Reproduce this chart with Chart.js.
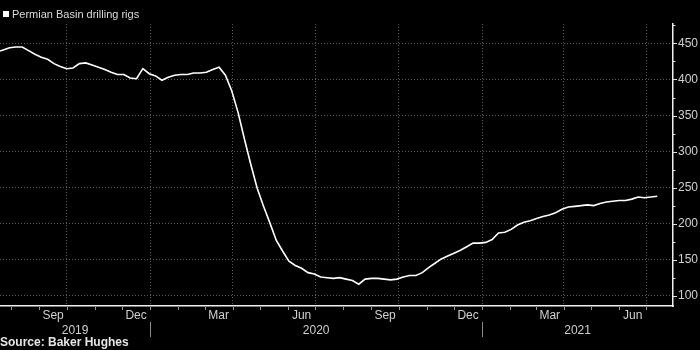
<!DOCTYPE html>
<html><head><meta charset="utf-8">
<script src="https://cdn.jsdelivr.net/npm/chart.js@4.4.1/dist/chart.umd.min.js"></script>
<style>html,body{margin:0;padding:0;background:#000;}#wrap{width:700px;height:350px;position:relative;}</style>
</head><body><div id="wrap"><canvas id="c"></canvas></div>
<script>
// ---- data (day numbers counted from 2019-07-01) ----
const seriesName = 'Permian Basin drilling rigs';
const sourceText = 'Source: Baker Hughes';
const firstPointDay = 15;   // mid-July 2019, weekly after that
const weekStep = 7;
const rigCounts = [
  438,441,444,445,445,440,435,431,428,422,418,415,416,422,423,420,417,414,410,407,
  407,402,401,415,408,405,399,403,406,407,407,409,409,410,414,417,406,384,354,317,
  282,249,224,201,177,162,148,142,138,132,130,126,125,124,125,123,121,116,123,124,
  124,123,122,123,126,128,128,132,139,145,151,155,159,163,168,173,173,174,178,187,
  188,192,198,202,204,207,210,212,215,220,223,224,225,226,225,228,230,231,232,232,
  234,237,236,237,238
];
const yTicks = [100,150,200,250,300,350,400,450];
const yMinorTicks = [125,175,225,275,325,375,425,475];
const quarterGridDays = [92,184,275,366,458,550,640,731];
const monthTickDays = [31,62,92,123,153,184,215,244,275,305,336,366,397,428,458,489,519,550,581,609,640,670,701,731];
const monthLabels = ['Sep','Dec','Mar','Jun','Sep','Dec','Mar','Jun'];
const monthLabelStart = [62,153,244,336,428,519,609,701];
const monthLabelEnd   = [92,184,275,366,458,550,640,731];
const yearLabels = ['2019','2020','2021'];
const yearBoundaryDays = [184,550];
const xMin = 18.5, xMax = 760.4;
const yMin = 85.7, yMax = 477;

const points = rigCounts.map((v,i)=>({x:firstPointDay + i*weekStep, y:v}));

const FONT = "'Liberation Sans', Arial, sans-serif";

const decor = {
  id:'decor',
  afterDraw(chart){
    const {ctx, chartArea:a, scales:{x,y}} = chart;
    ctx.save();
    // legend
    ctx.fillStyle = '#fff';
    ctx.fillRect(3,11,6,6);
    ctx.fillStyle = '#dcdcdc';
    ctx.font = "11px " + FONT;
    ctx.textBaseline = 'middle';
    ctx.textAlign = 'left';
    ctx.fillText(seriesName, 12, 14.5);
    // x month ticks
    ctx.strokeStyle = '#9a9a9a';
    ctx.lineWidth = 1;
    monthTickDays.forEach(d=>{
      const px = Math.round(x.getPixelForValue(d))+0.5;
      if (px < a.left || px > a.right) return;
      ctx.beginPath(); ctx.moveTo(px, a.bottom+1); ctx.lineTo(px, a.bottom+4); ctx.stroke();
    });
    // month labels
    ctx.fillStyle = '#d0d0d0';
    ctx.font = "12px " + FONT;
    ctx.textAlign = 'center';
    monthLabels.forEach((m,i)=>{
      const c = (x.getPixelForValue(monthLabelStart[i]) + x.getPixelForValue(monthLabelEnd[i]))/2;
      ctx.fillText(m, c, a.bottom+10);
    });
    // year labels and separators
    const bounds = [a.left, ...yearBoundaryDays.map(d=>x.getPixelForValue(d)), a.right];
    yearLabels.forEach((yl,i)=>{
      ctx.fillText(yl, (bounds[i]+bounds[i+1])/2, a.bottom+25);
    });
    ctx.strokeStyle = '#8a8a8a';
    yearBoundaryDays.forEach(d=>{
      const px = Math.round(x.getPixelForValue(d))+0.5;
      ctx.beginPath(); ctx.moveTo(px, a.bottom+16); ctx.lineTo(px, a.bottom+31); ctx.stroke();
    });
    // y ticks
    ctx.strokeStyle = '#e0e0e0';
    yTicks.forEach(v=>{
      const py = Math.round(y.getPixelForValue(v))+0.5;
      ctx.beginPath(); ctx.moveTo(a.right, py); ctx.lineTo(a.right+4, py); ctx.stroke();
    });
    yMinorTicks.forEach(v=>{
      const py = Math.round(y.getPixelForValue(v))+0.5;
      if (py < a.top) return;
      ctx.beginPath(); ctx.moveTo(a.right, py); ctx.lineTo(a.right+2.5, py); ctx.stroke();
    });
    // source
    ctx.fillStyle = '#e6e6e6';
    ctx.font = "bold 12px " + FONT;
    ctx.textAlign = 'left';
    ctx.fillText(sourceText, 0, 343);
    ctx.restore();
  }
};

new Chart(document.getElementById('c'), {
  type:'line',
  data:{datasets:[{label:seriesName, data:points, borderColor:'#fff', borderWidth:1.6,
    pointRadius:0, tension:0, fill:false}]},
  options:{
    responsive:true, maintainAspectRatio:false, animation:false,
    layout:{padding:{top:24,left:0,right:0,bottom:0}},
    plugins:{legend:{display:false}, tooltip:{enabled:false}},
    scales:{
      x:{type:'linear', min:xMin, max:xMax,
        afterBuildTicks(s){ s.ticks = quarterGridDays.map(v=>({value:v})); },
        afterFit(s){ s.height = 44; },
        ticks:{display:false},
        grid:{color:'#5a5a5a', lineWidth:1, drawTicks:false},
        border:{display:true, color:'#f0f0f0', width:1.5, dash:[1,2]}
      },
      y:{position:'right', min:yMin, max:yMax,
        afterBuildTicks(s){ s.ticks = yTicks.map(v=>({value:v})); },
        afterFit(s){ s.width = 27; },
        ticks:{color:'#d0d0d0', font:{family:FONT, size:12}, padding:5},
        grid:{color:'#5a5a5a', lineWidth:1, drawTicks:false},
        border:{display:true, color:'#f0f0f0', width:1.5, dash:[1,2]}
      }
    }
  },
  plugins:[decor]
});
</script></body></html>
